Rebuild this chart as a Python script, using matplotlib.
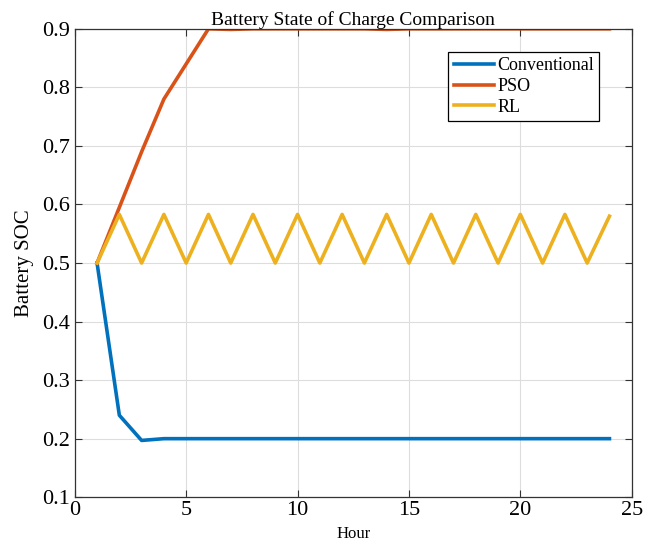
import numpy as np
import matplotlib
matplotlib.use('Agg')
import matplotlib.pyplot as plt

plt.rcParams['font.family'] = ['Liberation Serif', 'DejaVu Serif']

hours = np.arange(1, 25)
conventional = [0.5, 0.24, 0.197, 0.2, 0.2, 0.2, 0.2, 0.2, 0.2, 0.2, 0.2, 0.2,
                0.2, 0.2, 0.2, 0.2, 0.2, 0.2, 0.2, 0.2, 0.2, 0.2, 0.2, 0.2]
pso = [0.5, 0.595, 0.69, 0.78, 0.84, 0.9, 0.899, 0.9, 0.9, 0.9, 0.9, 0.9,
       0.9, 0.899, 0.9, 0.9, 0.9, 0.9, 0.9, 0.9, 0.9, 0.9, 0.9, 0.9]
rl = [0.5, 0.583, 0.5, 0.583, 0.5, 0.583, 0.5, 0.583, 0.5, 0.583, 0.5, 0.583,
      0.5, 0.583, 0.5, 0.583, 0.5, 0.583, 0.5, 0.583, 0.5, 0.583, 0.5, 0.58]

fig = plt.figure(figsize=(6.56, 5.44), dpi=100)
ax = fig.add_axes([0.114, 0.086, 0.849, 0.861])

ax.plot(hours, conventional, color=(0, 0.447, 0.741), lw=2.6, label='Conventional')
ax.plot(hours, pso, color=(0.85, 0.325, 0.098), lw=2.6, label='PSO')
ax.plot(hours, rl, color=(0.929, 0.694, 0.125), lw=2.6, label='RL')

ax.set_xlim(0, 25)
ax.set_ylim(0.1, 0.9)
ax.set_xticks([0, 5, 10, 15, 20, 25])
ax.set_yticks(np.arange(0.1, 0.91, 0.1))
ax.set_yticklabels(['0.1', '0.2', '0.3', '0.4', '0.5', '0.6', '0.7', '0.8', '0.9'])
ax.tick_params(direction='in', top=True, right=True, labelsize=16, length=5, color='#333333')
ax.tick_params(axis='x', pad=3)
ax.grid(True, color='#dddddd', lw=0.8)
for s in ax.spines.values():
    s.set_color('#333333')
    s.set_linewidth(0.9)

ax.set_title('Battery State of Charge Comparison', fontsize=14, pad=3)
ax.set_xlabel('Hour', fontsize=12, labelpad=4)
ax.set_ylabel('Battery SOC', fontsize=15, labelpad=6)

leg = ax.legend(loc='upper right', fontsize=13, fancybox=False, edgecolor='black',
                framealpha=1, handlelength=2.2, handletextpad=0.2, borderpad=0.3,
                labelspacing=0.2, bbox_to_anchor=(0.958, 0.97))
leg.get_frame().set_linewidth(0.9)

fig.savefig('out.png', dpi=100)
